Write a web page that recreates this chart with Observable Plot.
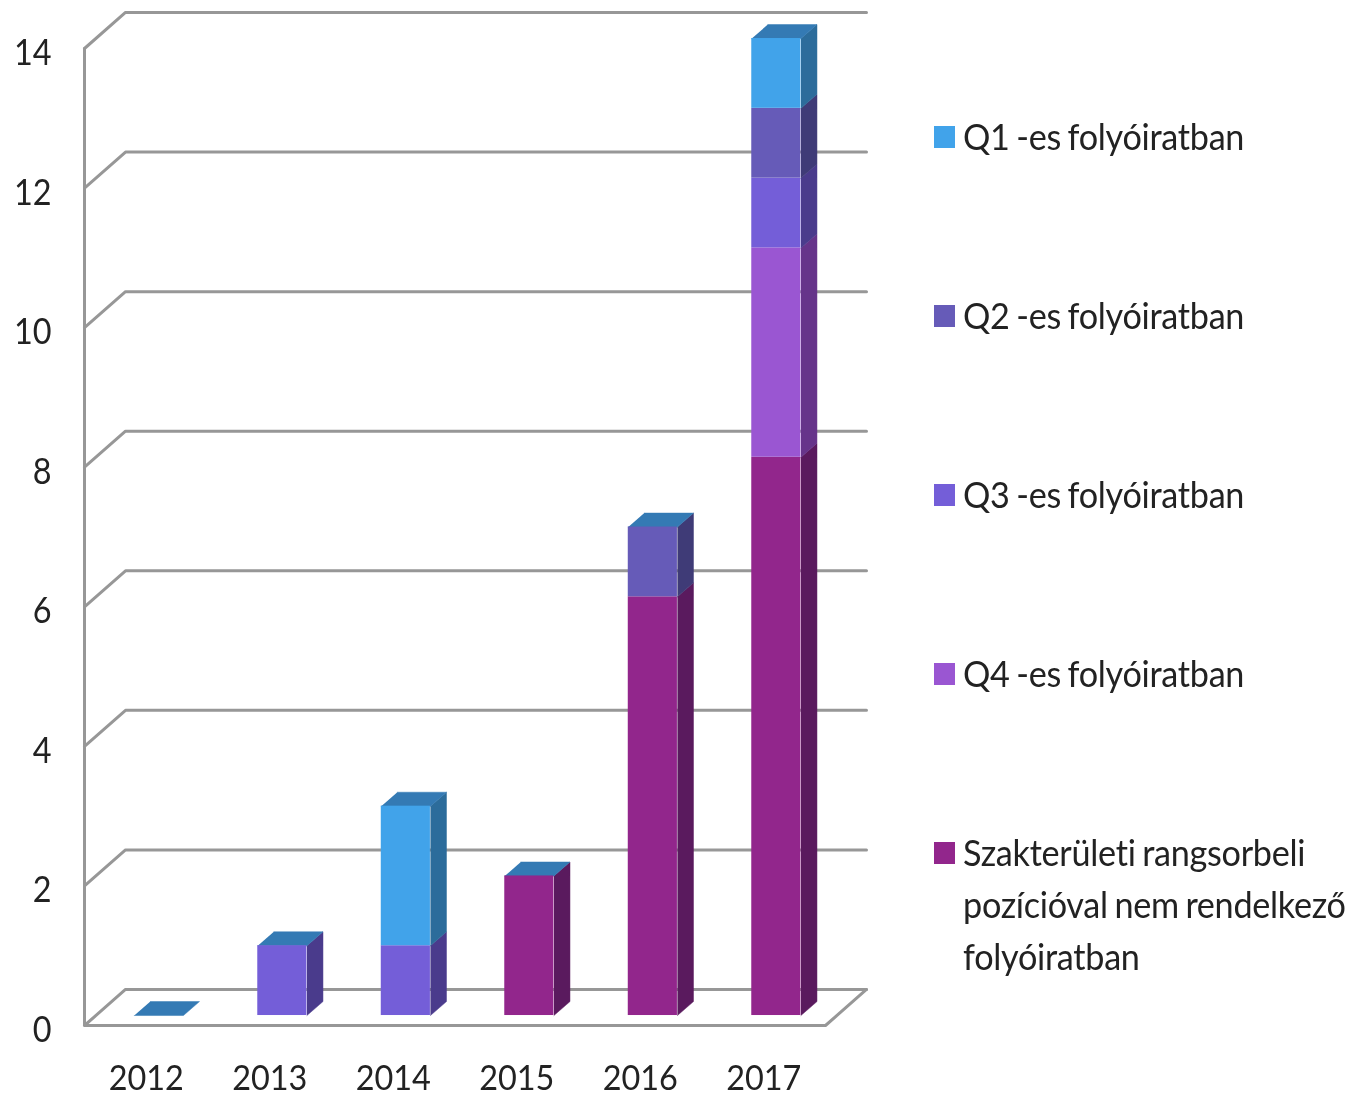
<!DOCTYPE html>
<html lang="hu">
<head>
<meta charset="utf-8">
<script src="https://cdn.jsdelivr.net/npm/d3@7"></script>
<script src="https://cdn.jsdelivr.net/npm/@observablehq/plot@0.6"></script>
<style>
html,body{margin:0;padding:0;background:#fff;}
#wrap{position:relative;width:1365px;height:1098px;overflow:hidden;font-family:Lato,sans-serif;color:#222;filter:blur(.55px);}
#wrap svg{position:absolute;left:0;top:0;overflow:visible;}
.lg{position:absolute;left:934px;font-size:36px;line-height:52px;display:flex;align-items:flex-start;}
.lg i{display:block;width:21px;height:22px;margin:16px 8px 0 0;flex:none;}
.lg span{display:block;white-space:pre;transform-origin:0 0;transform:scaleX(.95);letter-spacing:-.3px;word-spacing:-2px;}
</style>
</head>
<body>
<div id="wrap"></div>
<script>
const years = [2012, 2013, 2014, 2015, 2016, 2017];
const seriesNames = ["Szakterületi rangsorbeli\npozícióval nem rendelkező\nfolyóiratban", "Q4 -es folyóiratban", "Q3 -es folyóiratban", "Q2 -es folyóiratban", "Q1 -es folyóiratban"];
const szakteruleti = [0, 0, 0, 2, 6, 8];
const q4 = [0, 0, 0, 0, 0, 3];
const q3 = [0, 1, 1, 0, 0, 1];
const q2 = [0, 0, 0, 0, 1, 1];
const q1 = [0, 0, 2, 0, 0, 1];
const seriesValues = [szakteruleti, q4, q3, q2, q1];
const frontColors = ["#92268c", "#9a56d2", "#745ed8", "#665bb8", "#41a3ea"];
const sideColors = ["#5a1a5e", "#66348a", "#4a3b8c", "#3f3b77", "#2c6c9b"];
const topColor = "#347ab4";
const gridColor = "#979797";
const yTicks = [0, 2, 4, 6, 8, 10, 12, 14];

// Depth of the fake 3D box, expressed in data units
const wallDX = 0.332, wallDY = 0.516;   // front wall -> back wall
const frontDX = 0.102, frontDY = 0.143; // front wall -> bar front face
const sideDX = 0.13, sideDY = 0.2;      // bar front face -> bar back face
const barW = 0.398;
const xMin = 2011.5, xMax = 2017.5;

const fronts = [], polys = [];
function poly(id, fill, pts) {
  pts.forEach(([x, y]) => polys.push({id, fill, x, y}));
}
years.forEach((yr, i) => {
  const x1 = yr - barW / 2 + frontDX, x2 = x1 + barW;
  let base = 0;
  seriesValues.forEach((vals, s) => {
    const v = vals[i];
    if (v > 0) {
      const y1 = base + frontDY, y2 = base + v + frontDY;
      fronts.push({x1, x2, y1, y2, fill: frontColors[s]});
      poly(`side-${yr}-${s}`, sideColors[s], [[x2, y1], [x2 + sideDX, y1 + sideDY], [x2 + sideDX, y2 + sideDY], [x2, y2]]);
    }
    base += v;
  });
  const t = base + frontDY;
  poly(`top-${yr}`, topColor, [[x1, t], [x2, t], [x2 + sideDX, t + sideDY], [x1 + sideDX, t + sideDY]]);
});

// Walls: one path per tick on the left + back wall, plus the box outline
const walls = [];
yTicks.forEach(v => {
  walls.push({id: `g${v}`, x: xMin, y: v}, {id: `g${v}`, x: xMin + wallDX, y: v + wallDY}, {id: `g${v}`, x: xMax + wallDX, y: v + wallDY});
});
walls.push({id: "axis", x: xMin, y: 14}, {id: "axis", x: xMin, y: 0}, {id: "axis", x: xMax, y: 0}, {id: "axis", x: xMax + wallDX, y: wallDY});

const chart = Plot.plot({
  width: 1365, height: 1098,
  marginLeft: 84, marginRight: 540, marginTop: 48, marginBottom: 73,
  style: {fontFamily: "Lato, sans-serif", background: "transparent", overflow: "visible"},
  x: {domain: [xMin, xMax]},
  y: {domain: [0, 14]},
  marks: [
    Plot.line(walls, {x: "x", y: "y", z: "id", stroke: gridColor, strokeWidth: 3, strokeLinejoin: "miter"}),
    Plot.line(polys, {x: "x", y: "y", z: "id", fill: "fill", stroke: "fill", strokeWidth: 0.5}),
    Plot.rect(fronts, {x1: "x1", x2: "x2", y1: "y1", y2: "y2", fill: "fill"}),
    Plot.axisX({ticks: years, tickFormat: d => String(d), tickSize: 0, tickPadding: 40, fontSize: 34, label: null, fill: "#222", textAnchor: "middle"}),
    Plot.axisY({ticks: yTicks, tickFormat: d => String(d), tickSize: 0, tickPadding: 33, fontSize: 36, label: null, fill: "#222", dy: 5})
  ]
});
const wrap = document.getElementById("wrap");
wrap.appendChild(chart);

// The reference face is narrower than Lato: condense the axis labels to the same width
chart.querySelectorAll("text").forEach(t => {
  const size = parseFloat(getComputedStyle(t).fontSize);
  t.setAttribute("textLength", t.getComputedTextLength() * 0.9 * 36 / size);
  t.setAttribute("lengthAdjust", "spacingAndGlyphs");
});

// Legend (top row first, as in the reference)
const legendTops = [110, 289, 468, 647, 826];
seriesNames.slice().reverse().forEach((name, i) => {
  const row = document.createElement("div");
  row.className = "lg";
  row.style.top = legendTops[i] + "px";
  const sw = document.createElement("i");
  sw.style.background = frontColors[frontColors.length - 1 - i];
  const label = document.createElement("span");
  label.textContent = name;
  row.append(sw, label);
  wrap.appendChild(row);
});
</script>
</body>
</html>
